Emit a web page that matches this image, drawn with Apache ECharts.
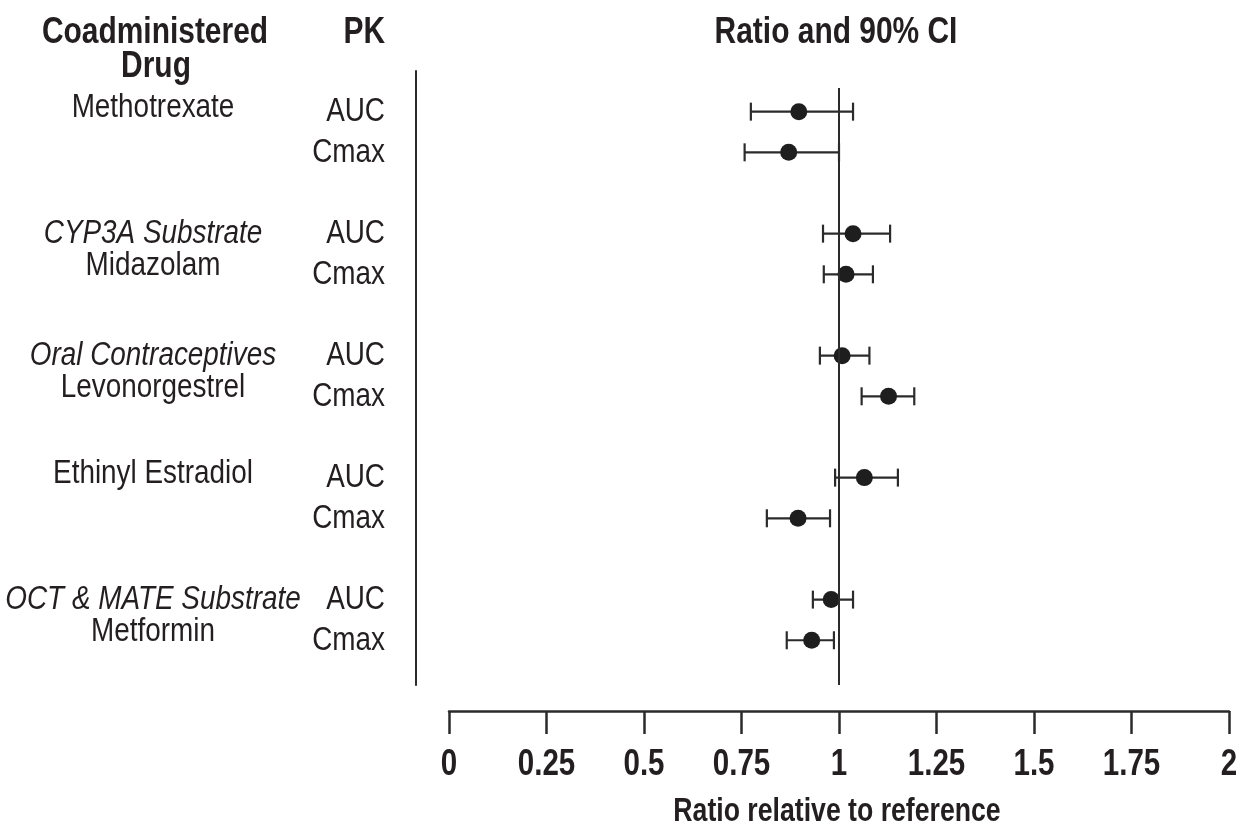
<!DOCTYPE html>
<html>
<head>
<meta charset="utf-8">
<title>Ratio and 90% CI</title>
<script src="https://cdn.jsdelivr.net/npm/echarts@6/dist/echarts.min.js"></script>
<style>
  html, body { margin: 0; padding: 0; background: #fff; }
  #chart { width: 1241px; height: 827px; }
</style>
</head>
<body>
<div id="chart"></div>
<script>
// group headings (italic) and drug names, one per group
const groupLabels = ["", "CYP3A Substrate", "Oral Contraceptives", "", "OCT & MATE Substrate"];
const drugNames = ["Methotrexate", "Midazolam", "Levonorgestrel", "Ethinyl Estradiol", "Metformin"];
const pkParams = ["AUC", "Cmax"];

// ratio and 90% CI, ordered group by group: AUC, Cmax
const ratio = [0.897, 0.871, 1.036, 1.018, 1.008, 1.127, 1.065, 0.895, 0.980, 0.930];
const ciLow = [0.774, 0.758, 0.959, 0.961, 0.951, 1.058, 0.990, 0.815, 0.933, 0.866];
const ciHigh = [1.036, 1.000, 1.131, 1.087, 1.078, 1.193, 1.151, 0.977, 1.036, 0.987];

const xTicks = [0, 0.25, 0.5, 0.75, 1, 1.25, 1.5, 1.75, 2];

// no narrow font installed, so Liberation Sans gets squeezed horizontally
const FONT = "'Liberation Sans', Arial, sans-serif";
const SQUEEZE = 0.82;
const INK = "#231f20";

// each group takes 3 rows (AUC, Cmax, blank)
function rowOf(i) {
  return Math.floor(i / 2) * 3 + (i % 2);
}

const points = ratio.map((v, i) => [v, rowOf(i)]);
const bars = ratio.map((v, i) => [rowOf(i), ciLow[i], ciHigh[i]]);

function renderCI(params, api) {
  const y = api.value(0);
  const lo = api.coord([api.value(1), y]);
  const hi = api.coord([api.value(2), y]);
  const h = 9;
  const style = { stroke: "#2b2b2b", lineWidth: 2.2 };
  return {
    type: "group",
    children: [
      { type: "line", shape: { x1: lo[0], y1: lo[1], x2: hi[0], y2: hi[1] }, style: style },
      { type: "line", shape: { x1: lo[0], y1: lo[1] - h, x2: lo[0], y2: lo[1] + h }, style: style },
      { type: "line", shape: { x1: hi[0], y1: hi[1] - h, x2: hi[0], y2: hi[1] + h }, style: style }
    ]
  };
}

const myChart = echarts.init(document.getElementById("chart"));

const option = {
  animation: false,
  backgroundColor: "#fff",
  grid: { left: 449, right: 12, top: 71, bottom: 142 },
  xAxis: {
    type: "value",
    min: 0,
    max: 2,
    interval: 0.25,
    offset: 26,
    splitLine: { show: false },
    axisLine: { show: true, onZero: false, lineStyle: { color: "#2b2b2b", width: 2.5 } },
    axisTick: { show: true, length: 23, lineStyle: { color: "#2b2b2b", width: 2.5 } },
    axisLabel: { show: false }
  },
  yAxis: {
    type: "value",
    inverse: true,
    min: -1,
    max: 14.1,
    offset: 33,
    splitLine: { show: false },
    axisTick: { show: false },
    axisLabel: { show: false },
    axisLine: { show: true, onZero: false, lineStyle: { color: "#2b2b2b", width: 2 } }
  },
  series: [
    {
      type: "custom",
      renderItem: renderCI,
      encode: { x: [1, 2], y: 0 },
      data: bars,
      z: 2,
      markLine: {
        silent: true,
        symbol: "none",
        label: { show: false },
        lineStyle: { color: "#2b2b2b", width: 2, type: "solid" },
        data: [[{ coord: [1, -0.58] }, { coord: [1, 14.1] }]]
      }
    },
    {
      type: "scatter",
      data: points,
      symbol: "circle",
      symbolSize: 17,
      itemStyle: { color: "#1e1e1e", opacity: 1 },
      z: 3
    }
  ]
};

myChart.setOption(option);

// positions from the chart's own scales
function rowY(row) {
  return myChart.convertToPixel({ gridIndex: 0 }, [1, row])[1];
}
function valueX(v) {
  return myChart.convertToPixel({ gridIndex: 0 }, [v, 0])[0];
}

const texts = [];
function addText(x, y, text, align, font) {
  texts.push({
    type: "text",
    x: x,
    y: y,
    scaleX: SQUEEZE,
    style: {
      text: text,
      fill: INK,
      font: font || "34px " + FONT,
      align: align,
      verticalAlign: "middle"
    }
  });
}

// headers
const headFont = "bold 36.5px " + FONT;
addText(155, 33, "Coadministered", "center", headFont);
addText(156, 67, "Drug", "center", headFont);
addText(385, 33, "PK", "right", headFont);
addText(836, 33, "Ratio and 90% CI", "center", headFont);

drugNames.forEach((name, g) => {
  const y = rowY(g * 3);
  if (groupLabels[g]) {
    addText(153, y, groupLabels[g], "center", "italic 34px " + FONT);
    addText(153, y + 32, name, "center");
  } else {
    addText(153, y - 4, name, "center");
  }
  pkParams.forEach((p, k) => {
    addText(385, rowY(g * 3 + k), p, "right");
  });
});

// tick labels and axis title
xTicks.forEach(v => {
  addText(valueX(v), 765, String(v), "center", "bold 36px " + FONT);
});
addText(valueX(1) - 2, 812, "Ratio relative to reference", "center", "bold 32.5px " + FONT);

myChart.setOption({ graphic: texts });
</script>
</body>
</html>
